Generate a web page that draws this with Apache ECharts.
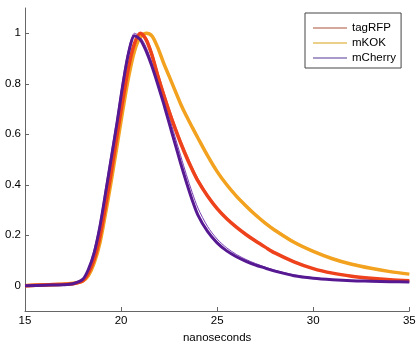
<!DOCTYPE html>
<html>
<head>
<meta charset="utf-8">
<script src="https://cdn.jsdelivr.net/npm/echarts@6/dist/echarts.min.js"></script>
<style>html,body{margin:0;padding:0;background:#fff;}#c{width:420px;height:350px;}</style>
</head>
<body>
<div id="c"></div>
<script>
var times = [15, 16, 17, 17.5, 18, 18.3, 18.6, 18.9, 19.2, 19.5, 19.8, 20.1, 20.4, 20.7, 21.0, 21.3, 21.6, 21.9, 22.2, 22.5, 22.8, 23.1, 23.4, 23.7, 24.0, 24.5, 25, 25.5, 26, 26.5, 27, 27.5, 28, 29, 30, 31, 32, 33, 34, 35];

var mCherryMain = [0.0, 0.002, 0.004, 0.008, 0.025, 0.065, 0.13, 0.235, 0.37, 0.51, 0.65, 0.80, 0.925, 0.99, 0.975, 0.93, 0.87, 0.80, 0.725, 0.645, 0.565, 0.485, 0.41, 0.34, 0.28, 0.215, 0.17, 0.138, 0.115, 0.097, 0.082, 0.07, 0.058, 0.04, 0.03, 0.024, 0.02, 0.018, 0.016, 0.015];
var mCherryRep = [0.0, 0.003, 0.005, 0.009, 0.028, 0.07, 0.145, 0.25, 0.39, 0.53, 0.67, 0.82, 0.94, 1.0, 0.985, 0.945, 0.885, 0.815, 0.745, 0.67, 0.592, 0.515, 0.44, 0.37, 0.308, 0.235, 0.185, 0.15, 0.124, 0.104, 0.088, 0.074, 0.062, 0.043, 0.032, 0.025, 0.021, 0.018, 0.016, 0.015];

var tagRFPMain = [0.0, 0.003, 0.006, 0.008, 0.02, 0.05, 0.105, 0.195, 0.32, 0.455, 0.60, 0.74, 0.87, 0.96, 1.0, 0.975, 0.915, 0.835, 0.76, 0.69, 0.625, 0.565, 0.51, 0.46, 0.415, 0.355, 0.305, 0.265, 0.232, 0.203, 0.177, 0.153, 0.13, 0.095, 0.068, 0.05, 0.038, 0.03, 0.024, 0.02];
var tagRFPRep1 = [0.005, 0.008, 0.01, 0.004, 0.018, 0.045, 0.095, 0.18, 0.30, 0.44, 0.585, 0.73, 0.86, 0.955, 0.995, 0.985, 0.93, 0.85, 0.775, 0.705, 0.64, 0.58, 0.525, 0.472, 0.425, 0.362, 0.312, 0.27, 0.237, 0.207, 0.181, 0.156, 0.134, 0.098, 0.07, 0.052, 0.04, 0.031, 0.025, 0.021];
var tagRFPRep2 = [0.0, 0.004, 0.005, 0.012, 0.022, 0.055, 0.11, 0.205, 0.33, 0.47, 0.615, 0.755, 0.88, 0.965, 1.0, 0.97, 0.905, 0.825, 0.75, 0.682, 0.618, 0.558, 0.505, 0.455, 0.41, 0.35, 0.3, 0.261, 0.228, 0.2, 0.174, 0.15, 0.128, 0.093, 0.066, 0.049, 0.037, 0.029, 0.023, 0.019];

var mKOKMain = [0.0, 0.003, 0.006, 0.01, 0.018, 0.04, 0.09, 0.17, 0.29, 0.42, 0.56, 0.70, 0.83, 0.93, 0.985, 1.0, 0.99, 0.945, 0.885, 0.83, 0.775, 0.72, 0.672, 0.628, 0.585, 0.515, 0.452, 0.40, 0.355, 0.316, 0.28, 0.248, 0.22, 0.172, 0.136, 0.107, 0.085, 0.069, 0.056, 0.046];
var mKOKRep = [0.004, 0.006, 0.008, 0.012, 0.016, 0.038, 0.085, 0.165, 0.285, 0.415, 0.555, 0.695, 0.825, 0.925, 0.98, 1.0, 0.995, 0.95, 0.892, 0.838, 0.782, 0.727, 0.68, 0.634, 0.59, 0.52, 0.458, 0.405, 0.36, 0.322, 0.286, 0.253, 0.225, 0.177, 0.14, 0.11, 0.088, 0.071, 0.058, 0.047];

var legendNames = ['tagRFP', 'mKOK', 'mCherry'];
var xTicks = [15, 20, 25, 30, 35];
var yTicks = [0, 0.2, 0.4, 0.6, 0.8, 1];

function pairs(vals) { return times.map(function (t, i) { return [t, vals[i]]; }); }

function line(name, vals, color, width) {
  return { name: name, type: 'line', data: pairs(vals), smooth: 0.3, symbol: 'none',
    lineStyle: { color: color, width: width }, itemStyle: { color: color }, z: width > 2 ? 3 : 2 };
}
function legendOnly(name, color) {
  return { name: name, type: 'line', data: [], symbol: 'none', lineStyle: { color: color, width: 2 }, itemStyle: { color: color } };
}

var chart = echarts.init(document.getElementById('c'), null, { renderer: 'canvas' });
chart.setOption({
  animation: false,
  backgroundColor: '#fff',
  grid: { left: 25, right: 10.7, top: 8, bottom: 39, containLabel: false },
  legend: {
    data: legendNames, orient: 'vertical', left: 305, top: 13,
    padding: [9, 5, 4, 8], itemGap: 3, icon: 'rect', itemWidth: 34, itemHeight: 2,
    borderColor: '#444', borderWidth: 1, backgroundColor: '#fff',
    textStyle: { fontFamily: 'Liberation Sans', fontSize: 11.5, color: '#000' }
  },
  xAxis: {
    type: 'value', min: xTicks[0], max: xTicks[xTicks.length - 1], interval: 5,
    name: 'nanoseconds', nameLocation: 'middle', nameGap: 18,
    nameTextStyle: { fontFamily: 'Liberation Sans', fontSize: 11.5, color: '#000' },
    axisLine: { show: true, onZero: false, lineStyle: { color: '#666', width: 1 } },
    axisTick: { show: true, inside: true, length: 4, lineStyle: { color: '#666' } },
    axisLabel: { margin: 4, fontFamily: 'Liberation Sans', fontSize: 11.5, color: '#000' },
    splitLine: { show: false }
  },
  yAxis: {
    type: 'value', min: -0.1, max: 1.1,
    axisLine: { show: true, onZero: false, lineStyle: { color: '#666', width: 1 } },
    axisTick: { show: true, inside: true, length: 4, customValues: yTicks, lineStyle: { color: '#666' } },
    axisLabel: { margin: 4, customValues: yTicks, fontFamily: 'Liberation Sans', fontSize: 11.5, color: '#000' },
    splitLine: { show: false }
  },
  series: [
    legendOnly('tagRFP', '#d4a99b'),
    legendOnly('mKOK', '#ecd08a'),
    legendOnly('mCherry', '#a99bc9'),
    line('mKOK rep', mKOKRep, '#f7b450', 1),
    line('tagRFP rep1', tagRFPRep1, '#f37a50', 1),
    line('tagRFP rep2', tagRFPRep2, '#ff8a2a', 1),
    line('mCherry rep', mCherryRep, '#7b3fb5', 1),
    line('mKOK main', mKOKMain, '#f2a21f', 3.5),
    line('tagRFP main', tagRFPMain, '#ee421c', 3.5),
    line('mCherry main', mCherryMain, '#561992', 3)
  ]
});
</script>
</body>
</html>
